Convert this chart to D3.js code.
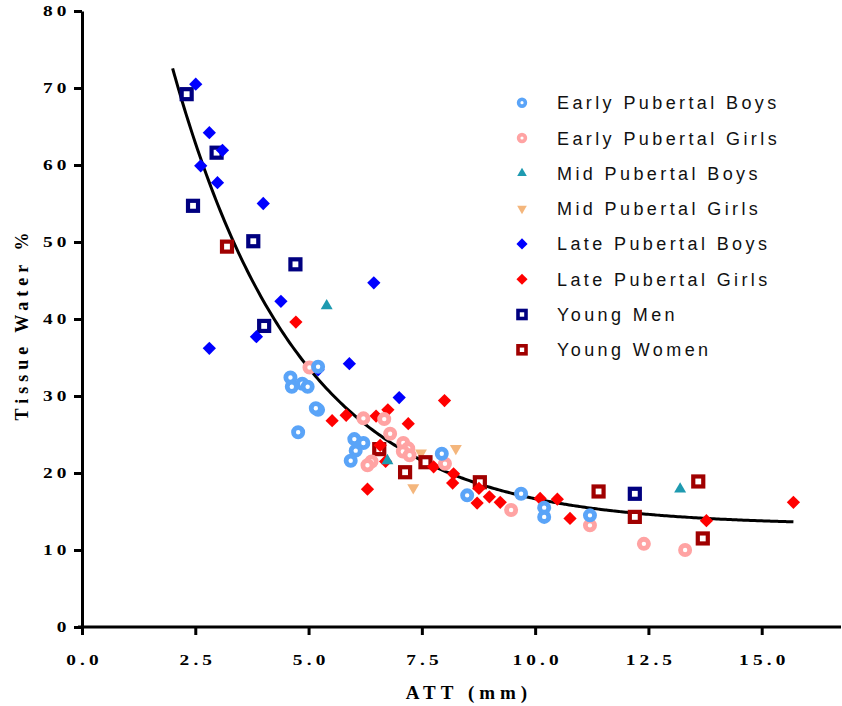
<!DOCTYPE html>
<html>
<head>
<meta charset="utf-8">
<script src="https://cdn.jsdelivr.net/npm/d3@7"></script>
<style>
  body { margin: 0; background: #fff; }
</style>
</head>
<body>
<div id="chart"></div>
<script>
// ATT (mm) against tissue water %, one pair of arrays per group
const earlyBoysAtt   = [5.21, 4.60, 4.63, 4.86, 4.98, 5.21, 5.16, 4.77, 6.01, 6.21, 6.04, 5.93, 7.94, 8.50, 9.69, 10.20, 10.20, 11.21];
const earlyBoysWater = [33.8, 32.4, 31.2, 31.6, 31.2, 28.2, 28.4, 25.3, 24.4, 23.9, 22.9, 21.6, 22.5, 17.1, 17.3, 15.5, 14.3, 14.5];

const earlyGirlsAtt   = [5.02, 6.21, 6.67, 6.80, 7.09, 7.20, 7.08, 7.23, 6.39, 6.30, 8.01, 9.47, 11.21, 12.40, 13.31];
const earlyGirlsWater = [33.7, 27.1, 27.0, 25.1, 23.9, 23.2, 22.8, 22.3, 21.5, 21.0, 21.2, 15.2, 13.2, 10.8, 10.0];

const midBoysAtt   = [5.40, 6.74, 13.20];
const midBoysWater = [41.7, 21.6, 17.9];

const midGirlsAtt   = [7.48, 8.25, 7.31, 8.80];
const midGirlsWater = [22.6, 23.2, 18.1, 18.7];

const lateBoysAtt   = [2.51, 2.81, 3.10, 2.62, 2.99, 4.00, 4.39, 3.85, 2.81, 6.44, 5.90, 7.00, 5.21];
const lateBoysWater = [70.5, 64.2, 61.9, 59.9, 57.7, 55.0, 42.3, 37.7, 36.2, 44.7, 34.2, 29.8, 33.4];

const lateGirlsAtt   = [4.72, 5.52, 5.83, 6.49, 6.75, 7.20, 8.00, 6.58, 6.70, 6.30, 7.76, 8.20, 8.18, 8.72, 8.76, 8.99, 9.23, 10.11, 10.49, 10.77, 13.78, 15.70];
const lateGirlsWater = [39.6, 26.8, 27.5, 27.4, 28.2, 26.4, 29.4, 23.6, 21.5, 17.9, 20.8, 19.9, 18.7, 16.1, 18.0, 16.9, 16.2, 16.7, 16.6, 14.1, 13.8, 16.2];

const youngMenAtt   = [2.31, 2.97, 2.45, 3.78, 4.71, 4.02, 12.20];
const youngMenWater = [69.2, 61.6, 54.7, 50.1, 47.1, 39.1, 17.3];

const youngWomenAtt   = [3.20, 6.56, 7.13, 7.58, 8.78, 11.40, 12.20, 13.60, 13.70];
const youngWomenWater = [49.4, 23.1, 20.1, 21.4, 18.8, 17.6, 14.3, 18.9, 11.5];

// one-phase decay fit drawn through the cloud
const fitPlateau = 13.2, fitSpan = 120.7, fitK = 0.355;
const fitFrom = 2.0, fitTo = 15.7;

const xTicks = [0, 2.5, 5, 7.5, 10, 12.5, 15];
const yTicks = [0, 10, 20, 30, 40, 50, 60, 70, 80];

const legendNames = ["Early Pubertal Boys", "Early Pubertal Girls", "Mid Pubertal Boys", "Mid Pubertal Girls",
                     "Late Pubertal Boys", "Late Pubertal Girls", "Young Men", "Young Women"];

const zip = (a, b) => a.map((v, i) => [v, b[i]]);

const groups = [
  { name: legendNames[0], color: "#5aa4f8", shape: "ring",  pts: zip(earlyBoysAtt, earlyBoysWater) },
  { name: legendNames[1], color: "#ffa3a3", shape: "ring",  pts: zip(earlyGirlsAtt, earlyGirlsWater) },
  { name: legendNames[2], color: "#1e9ab0", shape: "up",    pts: zip(midBoysAtt, midBoysWater) },
  { name: legendNames[3], color: "#f4b67c", shape: "down",  pts: zip(midGirlsAtt, midGirlsWater) },
  { name: legendNames[4], color: "#0000ff", shape: "diam",  pts: zip(lateBoysAtt, lateBoysWater) },
  { name: legendNames[5], color: "#ff0000", shape: "diam",  pts: zip(lateGirlsAtt, lateGirlsWater) },
  { name: legendNames[6], color: "#000080", shape: "box",   pts: zip(youngMenAtt, youngMenWater) },
  { name: legendNames[7], color: "#a00000", shape: "box",   pts: zip(youngWomenAtt, youngWomenWater) }
];
// paint order on the plot (later on top)
const drawOrder = [3, 6, 7, 4, 5, 1, 2, 0];

const W = 842, H = 706;
const svg = d3.select("#chart").append("svg")
  .attr("width", W).attr("height", H)
  .attr("xmlns", "http://www.w3.org/2000/svg");

const x = d3.scaleLinear().domain([0, 16.75]).range([82, 841]);
const y = d3.scaleLinear().domain([0, 80]).range([627, 11]);

const serif = "'Liberation Serif', 'Times New Roman', serif";
const sans = "'Liberation Sans', Arial, sans-serif";
const stretch = 1.38;

// x axis
const gx = svg.append("g")
  .attr("transform", `translate(0,627)`)
  .call(d3.axisBottom(x).tickValues(xTicks).tickFormat(d3.format(".1f")).tickSize(8).tickSizeOuter(0));
gx.select(".domain").attr("stroke-width", 3).attr("d", `M${x(0) - 4},0H${x.range()[1]}`);
gx.selectAll(".tick line").attr("stroke-width", 3);
gx.selectAll(".tick text")
  .attr("y", 38).attr("dy", null).attr("x", 1.5)
  .attr("transform", `scale(${stretch},1)`)
  .style("font-family", serif).style("font-weight", "bold")
  .style("font-size", "14px").style("letter-spacing", "3px").attr("fill", "#000");

// y axis
const gy = svg.append("g")
  .attr("transform", `translate(82,0)`)
  .call(d3.axisLeft(y).tickValues(yTicks).tickFormat(d3.format("d")).tickSize(8).tickSizeOuter(0));
gy.select(".domain").attr("stroke-width", 3);
gy.selectAll(".tick line").attr("stroke-width", 3);
gy.selectAll(".tick text")
  .attr("x", -8.3).attr("dy", "0.34em")
  .attr("transform", `scale(${stretch},1)`)
  .style("font-family", serif).style("font-weight", "bold")
  .style("font-size", "14px").style("letter-spacing", "3px").attr("fill", "#000");
svg.selectAll(".domain, .tick line").attr("stroke", "#000");

// axis titles
svg.append("text")
  .attr("x", 469).attr("y", 699)
  .attr("text-anchor", "middle")
  .style("font-family", serif).style("font-weight", "bold")
  .style("font-size", "19px").style("letter-spacing", "5px")
  .text("ATT (mm)");

svg.append("text")
  .attr("transform", "translate(28,324) rotate(-90)")
  .attr("text-anchor", "middle")
  .style("font-family", serif).style("font-weight", "bold")
  .style("font-size", "18px").style("letter-spacing", "5px")
  .text("Tissue Water %");

// fitted curve
const fitX = d3.range(fitFrom, fitTo + 0.001, 0.05);
svg.append("path")
  .datum(fitX)
  .attr("fill", "none").attr("stroke", "#000").attr("stroke-width", 3)
  .attr("d", d3.line()
    .x(d => x(d))
    .y(d => y(fitPlateau + fitSpan * Math.exp(-fitK * d)))
    .curve(d3.curveBasis));

// markers
function marker(sel, shape, color, big) {
  if (shape === "ring") {
    sel.append("circle").attr("r", big ? 4.6 : 3.4)
      .attr("fill", "#fff").attr("stroke", color).attr("stroke-width", big ? 4.8 : 3.6);
  } else if (shape === "box") {
    const s = big ? 10 : 8;
    sel.append("rect").attr("x", -s / 2).attr("y", -s / 2).attr("width", s).attr("height", s)
      .attr("fill", "#fff").attr("stroke", color).attr("stroke-width", big ? 4.2 : 3.6);
  } else if (shape === "diam") {
    sel.append("path").attr("d", d3.symbol(d3.symbolSquare, big ? 88 : 62)())
      .attr("transform", "rotate(45)").attr("fill", color);
  } else {
    sel.append("path").attr("d", d3.symbol(d3.symbolTriangle, big ? 62 : 40)())
      .attr("transform", shape === "down" ? "rotate(180)" : null).attr("fill", color);
  }
}

drawOrder.forEach(i => {
  const g = groups[i];
  svg.append("g").selectAll("g")
    .data(g.pts)
    .join("g")
    .attr("transform", d => `translate(${x(d[0])},${y(d[1])})`)
    .each(function () { marker(d3.select(this), g.shape, g.color, true); });
});

// legend
const legend = svg.append("g");
groups.forEach((g, i) => {
  const row = legend.append("g").attr("transform", `translate(522,${102.7 + i * 35.3})`);
  marker(row, g.shape, g.color, false);
  row.append("text")
    .attr("x", 35).attr("y", 6.5)
    .style("font-family", sans).style("font-size", "18px")
    .style("letter-spacing", "3.4px").attr("fill", "#111")
    .text(g.name);
});
</script>
</body>
</html>
